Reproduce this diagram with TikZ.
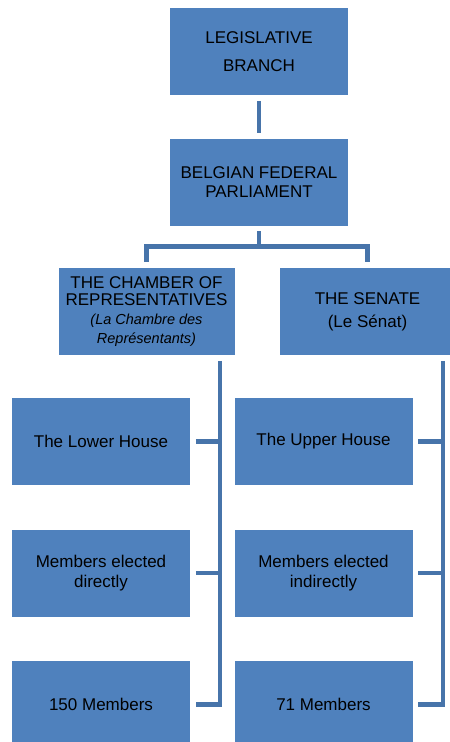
\documentclass[tikz,border=0pt]{standalone}
\usepackage{fontspec}
\setmainfont{Liberation Sans}
\usetikzlibrary{positioning, calc}
\definecolor{boxblue}{RGB}{79,129,189}
\definecolor{linkblue}{RGB}{71,116,170}
\tikzset{
  boxblue/.style={draw=white, fill=boxblue},
}
\newcommand{\frname}[1]{{\fontsize{14.5}{16}\selectfont\itshape #1}}

\begin{document}
\begin{tikzpicture}[
  x=1pt,y=-1pt,
  unit/.style={
    rectangle, boxblue, line width=0.6pt,
    minimum width=179pt, minimum height=88pt,
    align=center, inner sep=2pt,
    font=\fontsize{17}{19}\selectfont
  },
  member/.style={unit, font=\fontsize{17}{19.5}\selectfont},
  link/.style={draw=linkblue, line width=4.5pt, line join=miter}
]
\useasboundingbox (0,0) rectangle (450,742);

% ---- Top of the tree ----
\node[unit] (legis) at (259,51.5) {LEGISLATIVE\\[9pt]BRANCH};
\node[unit, below=42pt of legis] (parl) {BELGIAN FEDERAL\\PARLIAMENT};

% ---- The two houses ----
\node[unit, minimum width=177pt] (chamber) at (146.5,311.5)
  {THE CHAMBER OF\\[-2pt]REPRESENTATIVES\\\frname{(La Chambre des}\\\frname{Représentants)}};
\node[unit, minimum width=177pt] (senate) at (367.5,311.5)
  {THE SENATE\\[4pt](Le Sénat)};

% ---- Facts below each house ----
\node[member] (lower) at (101,441.5) {The Lower House};
\node[member, below=43pt of lower] (direct) {Members elected\\directly};
\node[member, below=43pt of direct] (m150) {150 Members};

\node[member] (upper) at (323.5,441.5) {The Upper House};
\node[member, below=43pt of upper] (indirect) {Members elected\\indirectly};
\node[member, below=43pt of indirect] (m71) {71 Members};

% ---- Connectors ----
\draw[link, shorten <=5pt, shorten >=5pt] (legis) -- (parl);
\coordinate (bus) at ($(parl.south)+(0,20)$);
\draw[link, shorten <=5pt] (parl.south) -- (bus);
\draw[link, shorten <=5pt, shorten >=5pt] (chamber.north) |- (bus) -| (senate.north);

% side rails down to the facts
\coordinate (lrail) at (220,0);
\coordinate (rrail) at (443,0);
\draw[link, shorten <=5pt, shorten >=5pt]
  (chamber.south -| lrail) -- (m150.east -| lrail) -- (m150.east);
\draw[link, shorten <=5pt, shorten >=5pt]
  (senate.south -| rrail) -- (m71.east -| rrail) -- (m71.east);
\foreach \n in {lower, direct} {
  \draw[link, shorten <=5pt] (\n.east) -- (\n.east -| lrail);
}
\foreach \n in {upper, indirect} {
  \draw[link, shorten <=5pt] (\n.east) -- (\n.east -| rrail);
}

\end{tikzpicture}
\end{document}
